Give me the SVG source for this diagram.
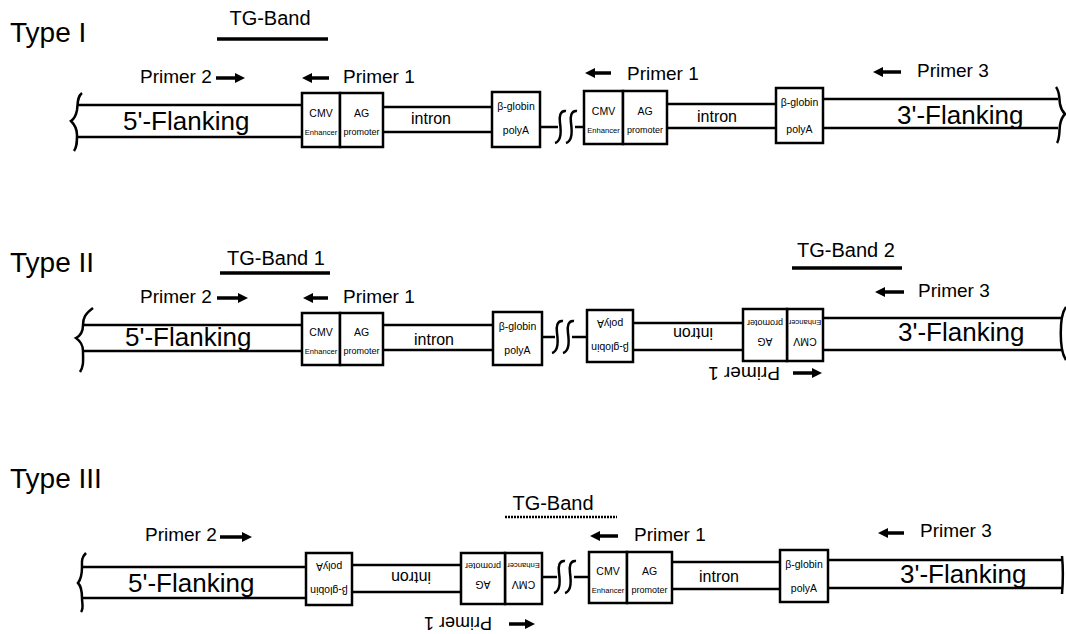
<svg xmlns="http://www.w3.org/2000/svg" xmlns:xlink="http://www.w3.org/1999/xlink" width="1066" height="634" viewBox="0 0 1066 634">
<style>
text{font-family:"Liberation Sans",Arial,sans-serif;fill:#000}
.ln{stroke:#000;stroke-width:2.5;fill:none}
.box{fill:#fff;stroke:#000;stroke-width:2.5}
.ar{stroke:#000;stroke-width:3.5;fill:none}
.ul{stroke:#000;stroke-width:3.5}
.type{font-size:28px}
.flank{font-size:26px}
.pr{font-size:19px}
.tg{font-size:20px;text-anchor:middle}
.in{font-size:16px;text-anchor:middle}
.sm{font-size:10.5px;text-anchor:middle}
.enh{font-size:7.6px;text-anchor:middle}
.pro{font-size:9px;text-anchor:middle}
</style>
<defs>
<marker id="ah" viewBox="0 0 10 10" refX="6" refY="5" markerWidth="11" markerHeight="10" markerUnits="userSpaceOnUse" orient="auto"><path d="M0,0 L10,5 L0,10 z" fill="#000"/></marker>
<path id="sq" class="ln" d="M10,-16 C4,-17 3,-10 4,-4 C5,3 6,14 -1,16 M21,-16 C15,-17 14,-10 15,-4 C16,3 17,14 10,16"/>
</defs>
<rect width="1066" height="634" fill="#fff"/>

<!-- ============ TYPE I ============ -->
<g id="type1-labels">
<text class="type" x="10" y="42">Type I</text>
<text class="tg" x="270" y="25">TG-Band</text>
<line class="ul" x1="217" y1="39" x2="328" y2="39"/>
<text class="pr" x="140" y="83">Primer 2</text>
<text class="pr" x="343" y="83">Primer 1</text>
<text class="pr" x="627" y="80">Primer 1</text>
<text class="pr" x="917" y="77">Primer 3</text>
</g>
<g id="type1-5flank">
<path class="ln" d="M82,93 C77,97 78,103 77,110 C76,116 74,119 71,121 C74,124 77,128 77,135 C77,142 77,147 74,151"/>
<line class="ln" x1="77" y1="105" x2="302" y2="105"/>
<line class="ln" x1="77" y1="137" x2="302" y2="137"/>
<text class="flank" x="123" y="130">5'-Flanking</text>
</g>
<g id="type1-cmvag1">
<rect class="box" x="302" y="93" width="38" height="54"/>
<rect class="box" x="340" y="93" width="43" height="54"/>
<text class="sm" x="321" y="117">CMV</text>
<text class="enh" x="321" y="135">Enhancer</text>
<text class="sm" x="361.5" y="117">AG</text>
<text class="pro" x="361.5" y="135">promoter</text>
</g>
<g id="type1-polya1">
<rect class="box" x="492" y="92" width="48" height="55"/>
<text class="sm" x="516" y="110">β-globin</text>
<text class="sm" x="516" y="134">polyA</text>
</g>
<g id="type1-cmvag2">
<rect class="box" x="584" y="91" width="39" height="53"/>
<rect class="box" x="623" y="91" width="44" height="53"/>
<text class="sm" x="603.5" y="115">CMV</text>
<text class="enh" x="603.5" y="133">Enhancer</text>
<text class="sm" x="645" y="115">AG</text>
<text class="pro" x="645" y="133">promoter</text>
</g>
<g id="type1-polya2">
<rect class="box" x="776" y="88" width="47" height="55"/>
<text class="sm" x="799.5" y="106">β-globin</text>
<text class="sm" x="799.5" y="133">polyA</text>
</g>
<g id="type1-3flank">
<line class="ln" x1="823" y1="99" x2="1058" y2="99"/>
<line class="ln" x1="823" y1="128" x2="1058" y2="128"/>
<path class="ln" d="M1056,87 C1060,92 1059,98 1060,104 C1061,110 1063,112 1065,114 C1063,116 1061,119 1060,125 C1059,132 1060,138 1057,143"/>
<text class="flank" x="897" y="124">3'-Flanking</text>
</g>

<!-- ============ TYPE II ============ -->
<g id="type2-labels">
<text class="type" x="10" y="272">Type II</text>
<text class="tg" x="276" y="265">TG-Band 1</text>
<line class="ul" x1="220" y1="273" x2="330" y2="273"/>
<text class="tg" x="846" y="257">TG-Band 2</text>
<line class="ul" x1="792" y1="268" x2="902" y2="268"/>
<text class="pr" x="140" y="303">Primer 2</text>
<text class="pr" x="343" y="303">Primer 1</text>
<text class="pr" x="918" y="297">Primer 3</text>
<text class="pr" transform="translate(744,367) rotate(180)" text-anchor="middle">Primer 1</text>
</g>
<g id="type2-5flank">
<path class="ln" d="M93,308 C85,314 83,318 83,325 C83,332 80,336 76,338 C80,341 83,344 83,351 C83,360 84,366 80,372"/>
<line class="ln" x1="83" y1="325" x2="302" y2="325"/>
<line class="ln" x1="83" y1="351" x2="302" y2="351"/>
<text class="flank" x="125" y="346">5'-Flanking</text>
</g>
<g id="type2-cmvag1">
<rect class="box" x="302" y="313" width="38" height="52"/>
<rect class="box" x="340" y="313" width="43" height="52"/>
<text class="sm" x="321" y="336">CMV</text>
<text class="enh" x="321" y="354">Enhancer</text>
<text class="sm" x="361.5" y="336">AG</text>
<text class="pro" x="361.5" y="354">promoter</text>
</g>
<g id="type2-polya1">
<rect class="box" x="493" y="312" width="49" height="53"/>
<text class="sm" x="517.5" y="330">β-globin</text>
<text class="sm" x="517.5" y="354">polyA</text>
</g>
<g id="type2-polya2-inv" transform="rotate(180 610 336)">
<rect class="box" x="587" y="310" width="46" height="52"/>
<text class="sm" x="610" y="328">β-globin</text>
<text class="sm" x="610" y="352">polyA</text>
</g>
<g id="type2-cmvag2-inv" transform="rotate(180 783 335)">
<rect class="box" x="743" y="309" width="36" height="52"/>
<rect class="box" x="779" y="309" width="44" height="52"/>
<text class="sm" x="761" y="332">CMV</text>
<text class="enh" x="761" y="350">Enhancer</text>
<text class="sm" x="801" y="332">AG</text>
<text class="pro" x="801" y="350">promoter</text>
</g>
<g id="type2-3flank">
<line class="ln" x1="823" y1="318" x2="1063" y2="318"/>
<line class="ln" x1="823" y1="350" x2="1063" y2="350"/>
<path class="ln" d="M1066,307 C1059,316 1059,350 1066,360"/>
<text class="flank" x="898" y="341">3'-Flanking</text>
</g>

<!-- ============ TYPE III ============ -->
<g id="type3-labels">
<text class="type" x="10" y="488">Type III</text>
<text class="tg" x="553" y="510">TG-Band</text>
<line x1="505" y1="517" x2="617" y2="517" stroke="#000" stroke-width="2.5" stroke-dasharray="2 1"/>
<text class="pr" x="145" y="541">Primer 2</text>
<text class="pr" x="634" y="541">Primer 1</text>
<text class="pr" x="920" y="537">Primer 3</text>
<text class="pr" transform="translate(458,617) rotate(180)" text-anchor="middle" style="font-size:18px">Primer 1</text>
</g>
<g id="type3-5flank">
<path class="ln" d="M86,553 C81,558 82,562 82,567 C82,574 81,579 78,583 C81,586 82,591 82,598 C82,604 84,608 81,612"/>
<line class="ln" x1="82" y1="567" x2="306" y2="567"/>
<line class="ln" x1="82" y1="598" x2="306" y2="598"/>
<text class="flank" x="128" y="592">5'-Flanking</text>
</g>
<g id="type3-polya1-inv" transform="rotate(180 329 579)">
<rect class="box" x="306" y="553" width="46" height="52"/>
<text class="sm" x="329" y="571">β-globin</text>
<text class="sm" x="329" y="595">polyA</text>
</g>
<g id="type3-cmvag1-inv" transform="rotate(180 501.5 578.5)">
<rect class="box" x="461" y="553" width="37" height="51"/>
<rect class="box" x="498" y="553" width="44" height="51"/>
<text class="sm" x="479.5" y="576">CMV</text>
<text class="enh" x="479.5" y="594">Enhancer</text>
<text class="sm" x="520" y="576">AG</text>
<text class="pro" x="520" y="594">promoter</text>
</g>
<g id="type3-cmvag2">
<rect class="box" x="589" y="552" width="38" height="51"/>
<rect class="box" x="627" y="552" width="45" height="51"/>
<text class="sm" x="608" y="575">CMV</text>
<text class="enh" x="608" y="593">Enhancer</text>
<text class="sm" x="649.5" y="575">AG</text>
<text class="pro" x="649.5" y="593">promoter</text>
</g>
<g id="type3-polya2">
<rect class="box" x="780" y="550" width="48" height="52"/>
<text class="sm" x="804" y="568">β-globin</text>
<text class="sm" x="804" y="592">polyA</text>
</g>
<g id="type3-3flank">
<line class="ln" x1="828" y1="560" x2="1063" y2="560"/>
<line class="ln" x1="828" y1="588" x2="1063" y2="588"/>
<path class="ln" d="M1062,556 C1063,566 1063,582 1062,594"/>
<text class="flank" x="900" y="583">3'-Flanking</text>
</g>

<!-- ============ CONNECTORS ============ -->
<g id="connectors">
<!-- Type I -->
<line class="ln" x1="383" y1="107" x2="492" y2="107"/>
<line class="ln" x1="383" y1="132" x2="492" y2="132"/>
<text class="in" x="431" y="124">intron</text>
<line class="ln" x1="540" y1="127" x2="558" y2="127"/>
<use xlink:href="#sq" href="#sq" x="556" y="127"/>
<line class="ln" x1="575" y1="127" x2="584" y2="127"/>
<line class="ln" x1="667" y1="104" x2="776" y2="104"/>
<line class="ln" x1="667" y1="128" x2="776" y2="128"/>
<text class="in" x="717" y="122">intron</text>
<line class="ar" x1="216" y1="78" x2="241" y2="78" marker-end="url(#ah)"/>
<line class="ar" x1="329" y1="78" x2="306" y2="78" marker-end="url(#ah)"/>
<line class="ar" x1="611" y1="73" x2="589" y2="73" marker-end="url(#ah)"/>
<line class="ar" x1="901" y1="72" x2="877" y2="72" marker-end="url(#ah)"/>
<!-- Type II -->
<line class="ln" x1="383" y1="325" x2="493" y2="325"/>
<line class="ln" x1="383" y1="350" x2="493" y2="350"/>
<text class="in" x="434" y="345">intron</text>
<line class="ln" x1="542" y1="337" x2="555" y2="337"/>
<use xlink:href="#sq" href="#sq" x="553" y="337"/>
<line class="ln" x1="572" y1="337" x2="587" y2="337"/>
<line class="ln" x1="633" y1="323" x2="743" y2="323"/>
<line class="ln" x1="633" y1="350" x2="743" y2="350"/>
<text class="in" transform="translate(693,328) rotate(180)">intron</text>
<line class="ar" x1="217" y1="298" x2="244" y2="298" marker-end="url(#ah)"/>
<line class="ar" x1="328" y1="298" x2="307" y2="298" marker-end="url(#ah)"/>
<line class="ar" x1="904" y1="292" x2="879" y2="292" marker-end="url(#ah)"/>
<line class="ar" x1="793" y1="373" x2="818" y2="373" marker-end="url(#ah)"/>
<!-- Type III -->
<line class="ln" x1="352" y1="565" x2="461" y2="565"/>
<line class="ln" x1="352" y1="592" x2="461" y2="592"/>
<text class="in" transform="translate(411,572) rotate(180)">intron</text>
<line class="ln" x1="542" y1="577" x2="557" y2="577"/>
<use xlink:href="#sq" href="#sq" x="555" y="577"/>
<line class="ln" x1="574" y1="577" x2="589" y2="577"/>
<line class="ln" x1="672" y1="562" x2="780" y2="562"/>
<line class="ln" x1="672" y1="589" x2="780" y2="589"/>
<text class="in" x="719" y="582">intron</text>
<line class="ar" x1="220" y1="537" x2="248" y2="537" marker-end="url(#ah)"/>
<line class="ar" x1="618" y1="536" x2="594" y2="536" marker-end="url(#ah)"/>
<line class="ar" x1="904" y1="533" x2="882" y2="533" marker-end="url(#ah)"/>
<line class="ar" x1="509" y1="624" x2="531" y2="624" marker-end="url(#ah)"/>
</g>
</svg>
